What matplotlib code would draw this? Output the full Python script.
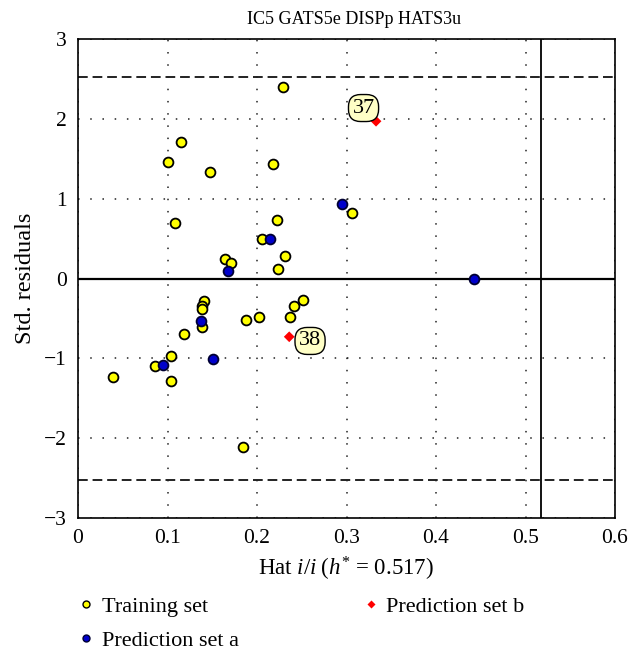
import matplotlib
matplotlib.use("Agg")
import matplotlib.pyplot as plt
from matplotlib.lines import Line2D

plt.rcParams['font.family'] = ['Liberation Serif', 'DejaVu Serif']
plt.rcParams['mathtext.fontset'] = 'custom'
plt.rcParams['mathtext.rm'] = 'Liberation Serif'
plt.rcParams['mathtext.it'] = 'Liberation Serif:italic'

title = "IC5 GATS5e DISPp HATS3u"
h_star = 0.517
res_limit = 2.53

train_x = [0.229, 0.115, 0.101, 0.148, 0.218, 0.108, 0.222, 0.206, 0.164, 0.171,
           0.224, 0.231, 0.306, 0.141, 0.139, 0.139, 0.139, 0.118, 0.188, 0.202,
           0.237, 0.241, 0.251, 0.104, 0.086, 0.039, 0.104, 0.184]
train_y = [2.40, 1.71, 1.46, 1.34, 1.44, 0.69, 0.73, 0.50, 0.24, 0.19,
           0.12, 0.28, 0.82, -0.28, -0.34, -0.38, -0.61, -0.70, -0.52, -0.48,
           -0.48, -0.35, -0.27, -0.97, -1.09, -1.24, -1.29, -2.11]

preda_x = [0.215, 0.168, 0.295, 0.137, 0.095, 0.151, 0.442]
preda_y = [0.50, 0.09, 0.93, -0.53, -1.08, -1.01, -0.01]

predb_x = [0.333, 0.236]
predb_y = [1.97, -0.73]
predb_labels = ["37", "38"]
predb_offsets = [(-9, 9.5), (15, -3)]

xticks = [0, 0.1, 0.2, 0.3, 0.4, 0.5, 0.6]
yticks = [-3, -2, -1, 0, 1, 2, 3]

fig = plt.figure(figsize=(6.42, 6.61), dpi=100)
ax = fig.add_axes([78/642, 1-518/661, 537/642, 479/661])

ax.set_xlim(0, 0.6)
ax.set_ylim(-3, 3)
ax.set_xticks(xticks)
ax.set_xticklabels(["0", "0.1", "0.2", "0.3", "0.4", "0.5", "0.6"])
ax.set_yticks(yticks)
ax.set_yticklabels(["\u22123", "\u22122", "\u22121", "0", "1", "2", "3"])
ax.tick_params(length=0, labelsize=15.5, pad=8)
ax.grid(True, linestyle=(0, (1, 7)), color='#222222', lw=1.1)
for s in ax.spines.values():
    s.set_linewidth(1.2)

ax.axhline(0, color='black', lw=1.6, zorder=2)
ax.axvline(h_star, color='black', lw=1.3, zorder=2)
ax.axhline(res_limit, color='#222222', lw=1.4, ls=(0, (5, 2.5)), zorder=2)
ax.axhline(-res_limit, color='#222222', lw=1.4, ls=(0, (5, 2.5)), zorder=2)

ax.scatter(train_x, train_y, s=50, c='#ffff00', edgecolors='black', linewidths=1.3, zorder=3)
ax.scatter(preda_x, preda_y, s=50, c='#0000cc', edgecolors='#000033', linewidths=1.3, zorder=3)
ax.scatter(predb_x, predb_y, s=30, c='#ff0000', marker='D', edgecolors='none', zorder=4)

for x, y, lab, off in zip(predb_x, predb_y, predb_labels, predb_offsets):
    ax.annotate(lab, xy=(x, y), xytext=off, textcoords='offset points',
                ha='center', va='center', fontsize=16,
                bbox=dict(boxstyle='round,pad=0.18,rounding_size=0.55', fc='#ffffc6', ec='black', lw=1.0),
                zorder=5)

ax.set_title(title, fontsize=13, pad=11, x=0.515)
ax.set_ylabel("Std. residuals", fontsize=17.5, labelpad=6)
ax.set_xlabel(r"Hat $i/i\;(h^{*}$ = 0.517)", fontsize=16.5, labelpad=5)

handles = [
    Line2D([], [], ls='none', marker='o', ms=5, mfc='#ffff00', mec='black', mew=1.0),
    Line2D([], [], ls='none', marker='o', ms=5, mfc='#0000cc', mec='#000033', mew=1.0),
    Line2D([], [], ls='none', marker='D', ms=4.5, mfc='#ff0000', mec='none'),
]
labels = ["Training set", "Prediction set a", "Prediction set b"]
fig.legend(handles, labels, ncol=2, loc='upper left', bbox_to_anchor=(55/642, 1-576/661),
           frameon=False, fontsize=16, handlelength=1.0, handletextpad=0.2,
           columnspacing=5.45, labelspacing=0.62)

fig.savefig("out.png", dpi=100)
